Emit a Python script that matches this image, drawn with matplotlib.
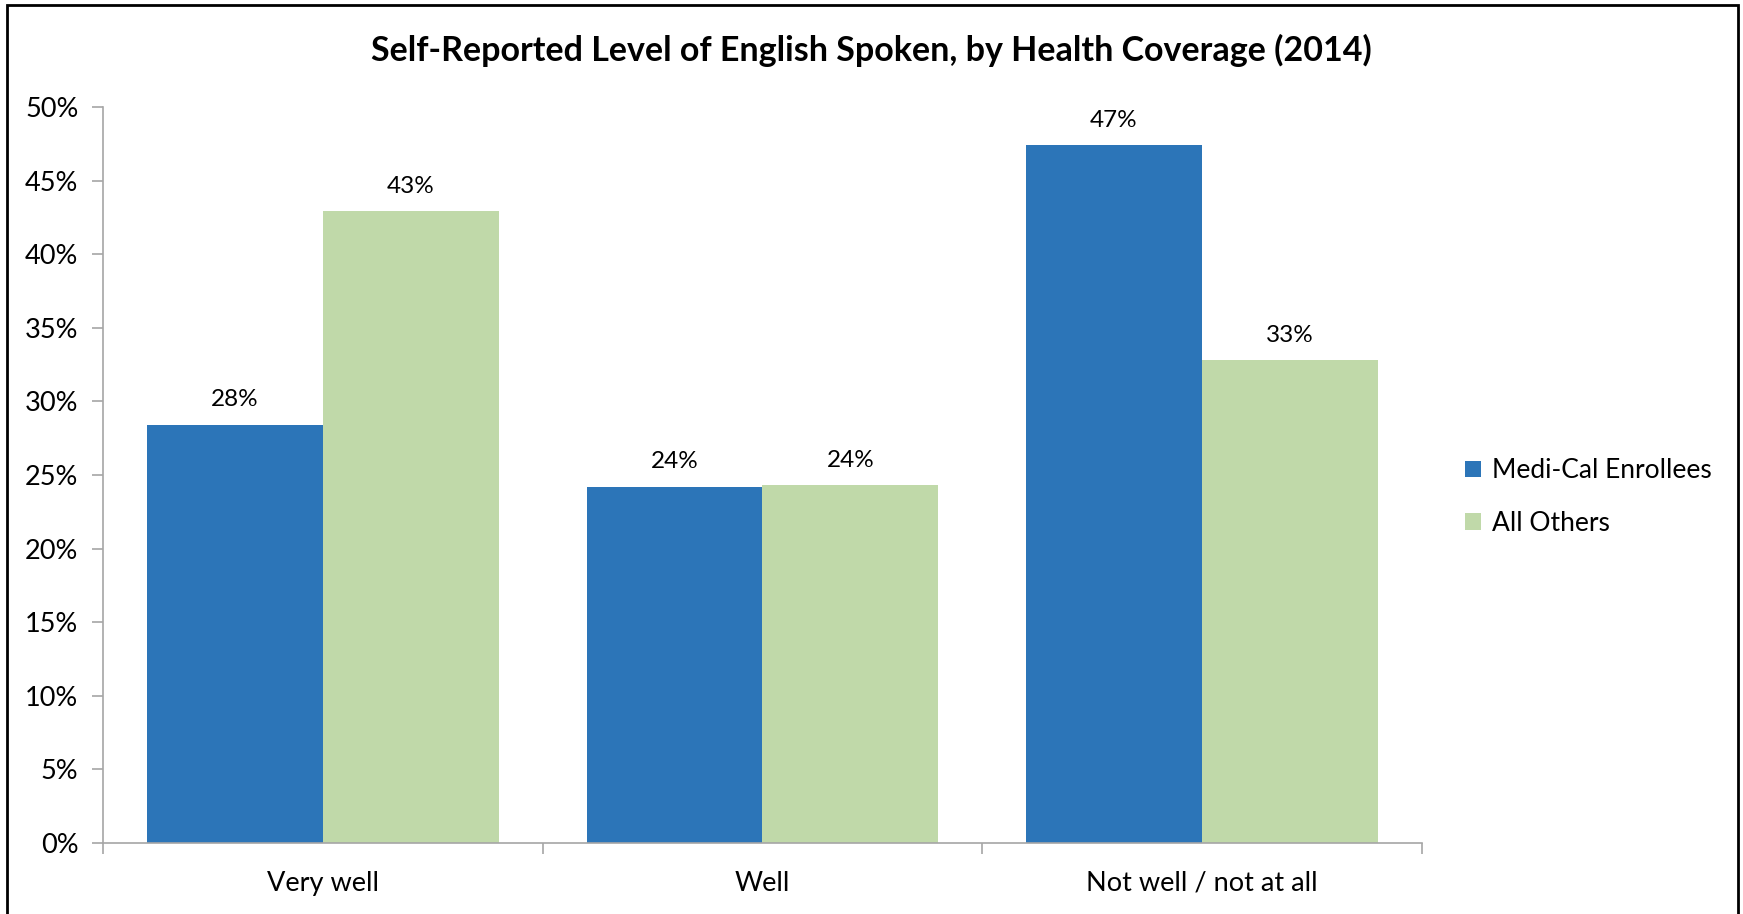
import matplotlib.pyplot as plt
from matplotlib.patches import Rectangle
import numpy as np

plt.rcParams['font.family'] = ['Lato', 'DejaVu Sans']

categories = ['Very well', 'Well', 'Not well / not at all']
medi_cal = [28.4, 24.2, 47.4]
all_others = [42.9, 24.3, 32.8]
series_names = ['Medi-Cal Enrollees', 'All Others']
colors = ['#2C75B8', '#C0D9A9']

fig = plt.figure(figsize=(17.43, 9.14), dpi=100)
ax = fig.add_axes([0.0593, 0.0777, 0.7563, 0.8053])

x = np.arange(len(categories))
w = 0.4
b1 = ax.bar(x - w / 2, medi_cal, w, color=colors[0], label=series_names[0])
b2 = ax.bar(x + w / 2, all_others, w, color=colors[1], label=series_names[1])

for bars in (b1, b2):
    for b in bars:
        ax.annotate(f'{b.get_height():.0f}%', (b.get_x() + b.get_width() / 2, b.get_height()),
                    xytext=(0, 18), textcoords='offset points', ha='center', va='center', fontsize=17.5)

ax.set_xlim(-0.5, 2.5)
ax.set_ylim(0, 50)
ax.set_yticks(range(0, 51, 5))
ax.set_yticklabels([f'{v}%' for v in range(0, 51, 5)], fontsize=19.5)
ax.set_xticks(x)
ax.set_xticklabels(categories, fontsize=19.5)
ax.set_xticks([-0.5, 0.5, 1.5, 2.5], minor=True)
ax.tick_params(axis='x', which='major', length=0, pad=20)
ax.tick_params(axis='x', which='minor', length=8, color='#A6A6A6', width=1.2)
ax.tick_params(axis='y', length=8, color='#A6A6A6', width=1.2, pad=10)

for s in ['top', 'right']:
    ax.spines[s].set_visible(False)
for s in ['left', 'bottom']:
    ax.spines[s].set_color('#A6A6A6')
    ax.spines[s].set_linewidth(1.2)

fig.text(0.5, 0.945, 'Self-Reported Level of English Spoken, by Health Coverage (2014)',
         ha='center', va='center', fontsize=24.5, fontweight='bold')

fig.legend(loc='center left', bbox_to_anchor=(0.827, 0.456), frameon=False, fontsize=19.0,
           handlelength=0.6, handleheight=0.6, handletextpad=0.4, labelspacing=1.05)

fig.patches.append(Rectangle((0.004, -0.01), 0.993, 1.004, transform=fig.transFigure,
                             fill=False, edgecolor='black', linewidth=2))

fig.savefig('out.png', dpi=100)
